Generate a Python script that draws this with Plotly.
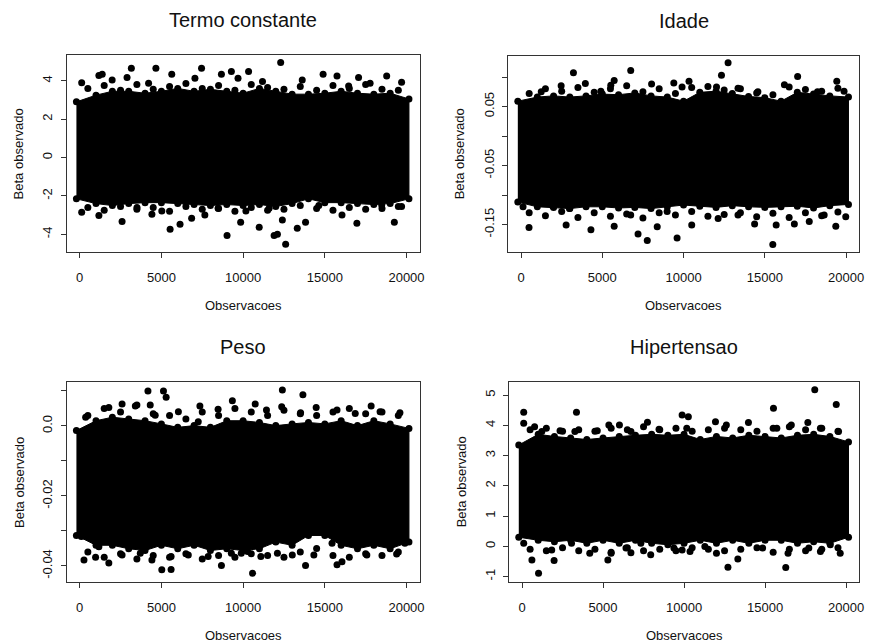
import plotly.graph_objects as go

W, H = 871, 644

# ---------------- data ----------------
obs_ticks = [0, 5000, 10000, 15000, 20000]
core_x = [-200, 1000, 2000, 3000, 4000, 5000, 6000, 7000, 8000, 9000, 10000,
          11000, 12000, 13000, 14000, 15000, 16000, 17000, 18000, 19000, 20150]
edge_x = [500, 1500, 2500, 3500, 4500, 5500, 6500, 7500, 8500, 9500,
          10500, 11500, 12500, 13500, 14500, 15500, 16500, 17500, 18500, 19500]

# Termo constante
termo_upper = [2.9, 3.25, 3.45, 3.45, 3.35, 3.45, 3.6, 3.45, 3.55, 3.45, 3.35,
               3.6, 3.45, 3.3, 3.3, 3.35, 3.45, 3.35, 3.3, 3.35, 3.05]
termo_lower = [-2.15, -2.4, -2.5, -2.4, -2.35, -2.35, -2.4, -2.45, -2.5, -2.45, -2.5,
               -2.45, -2.55, -2.4, -2.15, -2.35, -2.35, -2.4, -2.45, -2.4, -2.15]
termo_edge_hi = [3.6, 3.75, 3.5, 3.8, 3.55, 3.7, 3.85, 3.6, 3.75, 3.5,
                 3.8, 3.65, 3.55, 3.7, 3.5, 3.75, 3.6, 3.8, 3.55, 3.5]
termo_edge_lo = [-2.6, -2.75, -2.55, -2.7, -2.6, -2.8, -2.55, -2.7, -2.65, -2.8,
                 -2.6, -2.75, -2.7, -2.5, -2.65, -2.75, -2.6, -2.7, -2.65, -2.55]
termo_out_x = [122, 1175, 1378, 3162, 4663, 2898, 5634, 7458, 8674, 9282, 9689, 7053, 1986, 4216,
               122, 1175, 2594, 5533, 6141, 9018, 9850, 3507, 6850, 5025, 4420, 7660, 8470,
               12300, 10336, 13619, 14896, 15747, 17066, 18787, 19699, 17772, 16458, 11187,
               12604, 12100, 11898, 10985, 13315, 13822, 12403, 16963, 19255, 10172, 11593,
               16052, 14634, 18483, 19699]
termo_out_y = [3.9, 4.27, 4.34, 4.65, 4.65, 4.17, 4.34, 4.65, 4.34, 4.48, 4.13, 4.13, 4.04, 3.87,
               -2.85, -3.02, -3.33, -3.73, -3.47, -4.06, -3.37, -2.6, -3.16, -2.78, -2.95, -2.99, -2.64,
               4.95, 4.48, 4.04, 4.34, 4.25, 4.17, 4.25, 3.92, 3.87, 3.73, 3.96,
               -4.51, -3.99, -4.06, -3.63, -3.68, -3.37, -3.25, -3.42, -3.37, -2.78, -2.64,
               -2.99, -2.5, -2.47, -2.55]

# Idade
idade_upper = [0.059, 0.066, 0.068, 0.066, 0.068, 0.071, 0.07, 0.073, 0.068, 0.066, 0.059,
               0.074, 0.076, 0.072, 0.067, 0.065, 0.059, 0.074, 0.071, 0.068, 0.066]
idade_lower = [-0.112, -0.12, -0.121, -0.123, -0.12, -0.12, -0.122, -0.121, -0.123, -0.12, -0.117,
               -0.119, -0.121, -0.118, -0.12, -0.121, -0.12, -0.119, -0.122, -0.118, -0.116]
idade_edge_hi = [0.072, 0.08, 0.076, 0.082, 0.074, 0.08, 0.085, 0.075, 0.08, 0.072,
                 0.082, 0.084, 0.078, 0.08, 0.073, 0.07, 0.083, 0.079, 0.076, 0.081]
idade_edge_lo = [-0.13, -0.135, -0.128, -0.138, -0.13, -0.136, -0.132, -0.139, -0.13, -0.134,
                 -0.128, -0.136, -0.133, -0.13, -0.137, -0.131, -0.138, -0.13, -0.135, -0.129]
idade_out_x = [3223, 6748, 2466, 3956, 5731, 8032, 9400, 9908, 1242, 4911, 5523,
               489, 2773, 4300, 5731, 7199, 7767, 8379, 9602, 122, 1957, 2978, 8990, 6748,
               12740, 12334, 17021, 16207, 19431, 10336, 12028, 13351, 14574, 18244, 19877,
               15493, 15700, 19370, 17737, 14373, 16819, 10503, 12128, 13351, 19982, 18654]
idade_out_y = [0.107, 0.111, 0.085, 0.089, 0.094, 0.088, 0.09, 0.083, 0.075, 0.076, 0.086,
               -0.155, -0.151, -0.159, -0.153, -0.166, -0.177, -0.154, -0.173, -0.12, -0.119, -0.123, -0.128, -0.134,
               0.124, 0.103, 0.101, 0.087, 0.093, 0.093, 0.083, 0.081, 0.075, 0.075, 0.076,
               -0.184, -0.151, -0.153, -0.145, -0.149, -0.149, -0.151, -0.14, -0.134, -0.137, -0.134]

# Peso
peso_upper = [-0.0013, 0.0015, 0.0025, 0.002, 0.0015, 0.0006, -0.0004, 0.0001, -0.0004, 0.0015, 0.0015,
              0.001, 0.0001, 0.0006, 0.001, 0.0006, 0.0015, 0.0001, 0.0015, 0.0006, -0.0007]
peso_lower = [-0.0313, -0.0341, -0.0341, -0.0351, -0.0356, -0.0341, -0.0351, -0.0341, -0.0356, -0.0351, -0.0356,
              -0.0351, -0.0332, -0.0341, -0.0313, -0.0313, -0.0341, -0.0351, -0.0341, -0.0351, -0.0332]
peso_edge_hi = [0.003, 0.005, 0.004, 0.006, 0.0035, 0.003, 0.002, 0.004, 0.003, 0.005,
                0.004, 0.003, 0.0045, 0.0035, 0.003, 0.004, 0.005, 0.0035, 0.004, 0.003]
peso_edge_lo = [-0.036, -0.0375, -0.0365, -0.038, -0.037, -0.0375, -0.0365, -0.038, -0.037, -0.0375,
                -0.0365, -0.037, -0.0375, -0.036, -0.035, -0.037, -0.0375, -0.0365, -0.037, -0.036]
peso_out_x = [4177, 5126, 5290, 4317, 2594, 3405, 7357, 9343, 6040, 8470, 1783, 365, 7256, 4621,
              263, 973, 1783, 5025, 5594, 5594, 2594, 3709, 4420, 8674, 7862, 6646, 9282, 9890, 1175, 100,
              12403, 13660, 10741, 11430, 12363, 13518, 14472, 15747, 17836, 18382, 19598, 16863,
              10579, 13822, 15747, 16052, 14331, 13011, 12100, 11086, 10275, 17572, 19395, 19901, 15443]
peso_out_y = [0.010, 0.010, 0.0082, 0.006, 0.0063, 0.0057, 0.0057, 0.0072, 0.0041, 0.0048, 0.0053, 0.0025, 0.0012, 0.0031,
              -0.0383, -0.0375, -0.0392, -0.0411, -0.041, -0.0373, -0.0369, -0.0364, -0.0383, -0.0399, -0.0373,
              -0.0369, -0.0364, -0.0364, -0.0345, -0.0316,
              0.0103, 0.0089, 0.0063, 0.0046, 0.0055, 0.0038, 0.0053, 0.0046, 0.0057, 0.0041, 0.0038, 0.0036,
              -0.0421, -0.0399, -0.0397, -0.0388, -0.0369, -0.0369, -0.0364, -0.0373, -0.0359, -0.0369, -0.0366,
              -0.0335, -0.0335]

# Hipertensao
hiper_upper = [3.35, 3.7, 3.63, 3.58, 3.53, 3.58, 3.63, 3.67, 3.7, 3.67, 3.7,
               3.53, 3.63, 3.58, 3.67, 3.63, 3.58, 3.67, 3.7, 3.63, 3.45]
hiper_lower = [0.3, 0.2, 0.15, 0.2, 0.1, 0.2, 0.1, 0.2, 0.1, 0.05, 0.1,
               0.2, 0.1, 0.2, 0.1, 0.2, 0.2, 0.1, 0.15, 0.1, 0.3]
hiper_edge_hi = [3.85, 3.9, 3.8, 3.85, 3.8, 3.9, 3.85, 3.95, 3.85, 3.9,
                 3.8, 3.85, 3.9, 3.85, 3.8, 3.9, 3.95, 3.85, 3.9, 3.8]
hiper_edge_lo = [-0.1, -0.15, -0.05, -0.15, -0.1, -0.2, -0.05, -0.15, -0.1, -0.15,
                 -0.05, -0.1, -0.15, -0.1, -0.05, -0.2, -0.1, -0.15, -0.1, -0.05]
hiper_out_x = [104, 104, 3361, 776, 1222, 2346, 3262, 4644, 5359, 6012, 7742, 8456, 9880, 6721,
               1020, 611, 1980, 4180, 5297, 5499, 6416, 6721, 7943, 104, 1833, 3055, 7332, 9373, 9880,
               18067, 19393, 15519, 15727, 10265, 10167, 11939, 12611, 13974, 16620, 17640, 18416, 19534,
               12709, 16277, 13320, 12000, 16418, 19638, 18416, 10369, 14848, 17701, 19027, 11285]
hiper_out_y = [4.43, 4.07, 4.43, 3.95, 3.79, 3.82, 3.79, 3.82, 4.01, 4.01, 4.1, 3.87, 4.34, 3.79,
               -0.89, -0.45, -0.47, -0.23, -0.45, -0.23, -0.06, -0.21, -0.28, 0.1, -0.12, 0.1, 0.1, -0.06, -0.12,
               5.17, 4.69, 4.56, 3.9, 4.28, 3.9, 4.12, 4.01, 4.09, 4.01, 4.09, 3.9, 3.79,
               -0.69, -0.7, -0.42, -0.23, -0.23, -0.23, -0.17, -0.17, -0.06, -0.06, 0.05, -0.01]

titles = ["Termo constante", "Idade", "Peso", "Hipertensao"]
x_label = "Observacoes"
y_label = "Beta observado"

# ---------------- layout geometry (pixels) ----------------
boxes = [(67, 422, 55, 252), (511, 864, 56, 252), (67, 422, 382, 582), (512, 864, 382, 582)]
yranges = [[-4.92, 5.34], [-0.1966, 0.1356], [-0.0446, 0.01257], [-1.18, 5.43]]
ytickvals = [[-4, -2, 0, 2, 4],
             [-0.15, -0.10, -0.05, 0.0, 0.05, 0.10],
             [-0.04, -0.03, -0.02, -0.01, 0.0, 0.01],
             [-1, 0, 1, 2, 3, 4, 5]]
yticktext = [["-4", "-2", "0", "2", "4"],
             ["-0.15", "", "-0.05", "", "0.05", ""],
             ["-0.04", "", "-0.02", "", "0.0", ""],
             ["-1", "0", "1", "2", "3", "4", "5"]]

panels = [(termo_upper, termo_lower, termo_edge_hi, termo_edge_lo, termo_out_x, termo_out_y),
          (idade_upper, idade_lower, idade_edge_hi, idade_edge_lo, idade_out_x, idade_out_y),
          (peso_upper, peso_lower, peso_edge_hi, peso_edge_lo, peso_out_x, peso_out_y),
          (hiper_upper, hiper_lower, hiper_edge_hi, hiper_edge_lo, hiper_out_x, hiper_out_y)]

FONT = "Liberation Sans, Arial, Helvetica, sans-serif"
INK = "#000000"
MS = 7

fig = go.Figure()
layout = dict(width=W, height=H, margin=dict(l=0, r=0, t=0, b=0, pad=0),
              paper_bgcolor="white", plot_bgcolor="white", showlegend=False,
              font=dict(family=FONT, color="#111", size=13))
annotations = []

for i, ((up, lo, ehi, elo, ox, oy), (x0, x1, y0, y1)) in enumerate(zip(panels, boxes)):
    k = "" if i == 0 else str(i + 1)
    xa, ya = "x" + k, "y" + k
    fig.add_trace(go.Scatter(x=core_x + core_x[::-1], y=up + lo[::-1], xaxis=xa, yaxis=ya,
                             mode="lines", fill="toself", fillcolor=INK,
                             line=dict(color=INK, width=1), hoverinfo="skip"))
    fig.add_trace(go.Scatter(x=core_x + core_x + edge_x + edge_x, y=up + lo + ehi + elo,
                             xaxis=xa, yaxis=ya, mode="markers",
                             marker=dict(size=MS, color=INK), hoverinfo="skip"))
    fig.add_trace(go.Scatter(x=ox, y=oy, xaxis=xa, yaxis=ya, mode="markers",
                             marker=dict(size=MS, color=INK)))
    axcommon = dict(showgrid=False, zeroline=False, showline=True, mirror=True,
                    linecolor="#333", linewidth=1, ticks="outside", ticklen=5,
                    tickcolor="#333", tickwidth=1,
                    tickfont=dict(family=FONT, size=13, color="#111"))
    layout["xaxis" + k] = dict(domain=[x0 / W, x1 / W], range=[-800, 20800],
                               anchor=ya, tickvals=obs_ticks,
                               ticktext=[str(t) for t in obs_ticks],
                               ticklabelstandoff=8, **axcommon)
    layout["yaxis" + k] = dict(domain=[1 - y1 / H, 1 - y0 / H], range=yranges[i],
                               anchor=xa, tickvals=ytickvals[i], ticktext=yticktext[i],
                               tickangle=-90, ticklabelstandoff=3, **axcommon)
    cx = (x0 + x1) / 2
    annotations.append(dict(text=titles[i], x=cx / W, y=1 - (y0 - 35) / H, xref="paper", yref="paper",
                            showarrow=False, xanchor="center", yanchor="middle",
                            font=dict(family=FONT, size=20, color="#111")))
    annotations.append(dict(text=x_label, x=cx / W, y=1 - (y1 + 53) / H, xref="paper", yref="paper",
                            showarrow=False, xanchor="center", yanchor="middle",
                            font=dict(family=FONT, size=13, color="#111")))
    annotations.append(dict(text=y_label, x=(x0 - 48) / W, y=1 - ((y0 + y1) / 2) / H,
                            xref="paper", yref="paper", textangle=-90,
                            showarrow=False, xanchor="center", yanchor="middle",
                            font=dict(family=FONT, size=13, color="#111")))

layout["annotations"] = annotations
fig.update_layout(**layout)
fig.write_html("out.html", config={"displayModeBar": False},
               post_script="document.body.style.margin='0';document.body.style.overflow='hidden';")
